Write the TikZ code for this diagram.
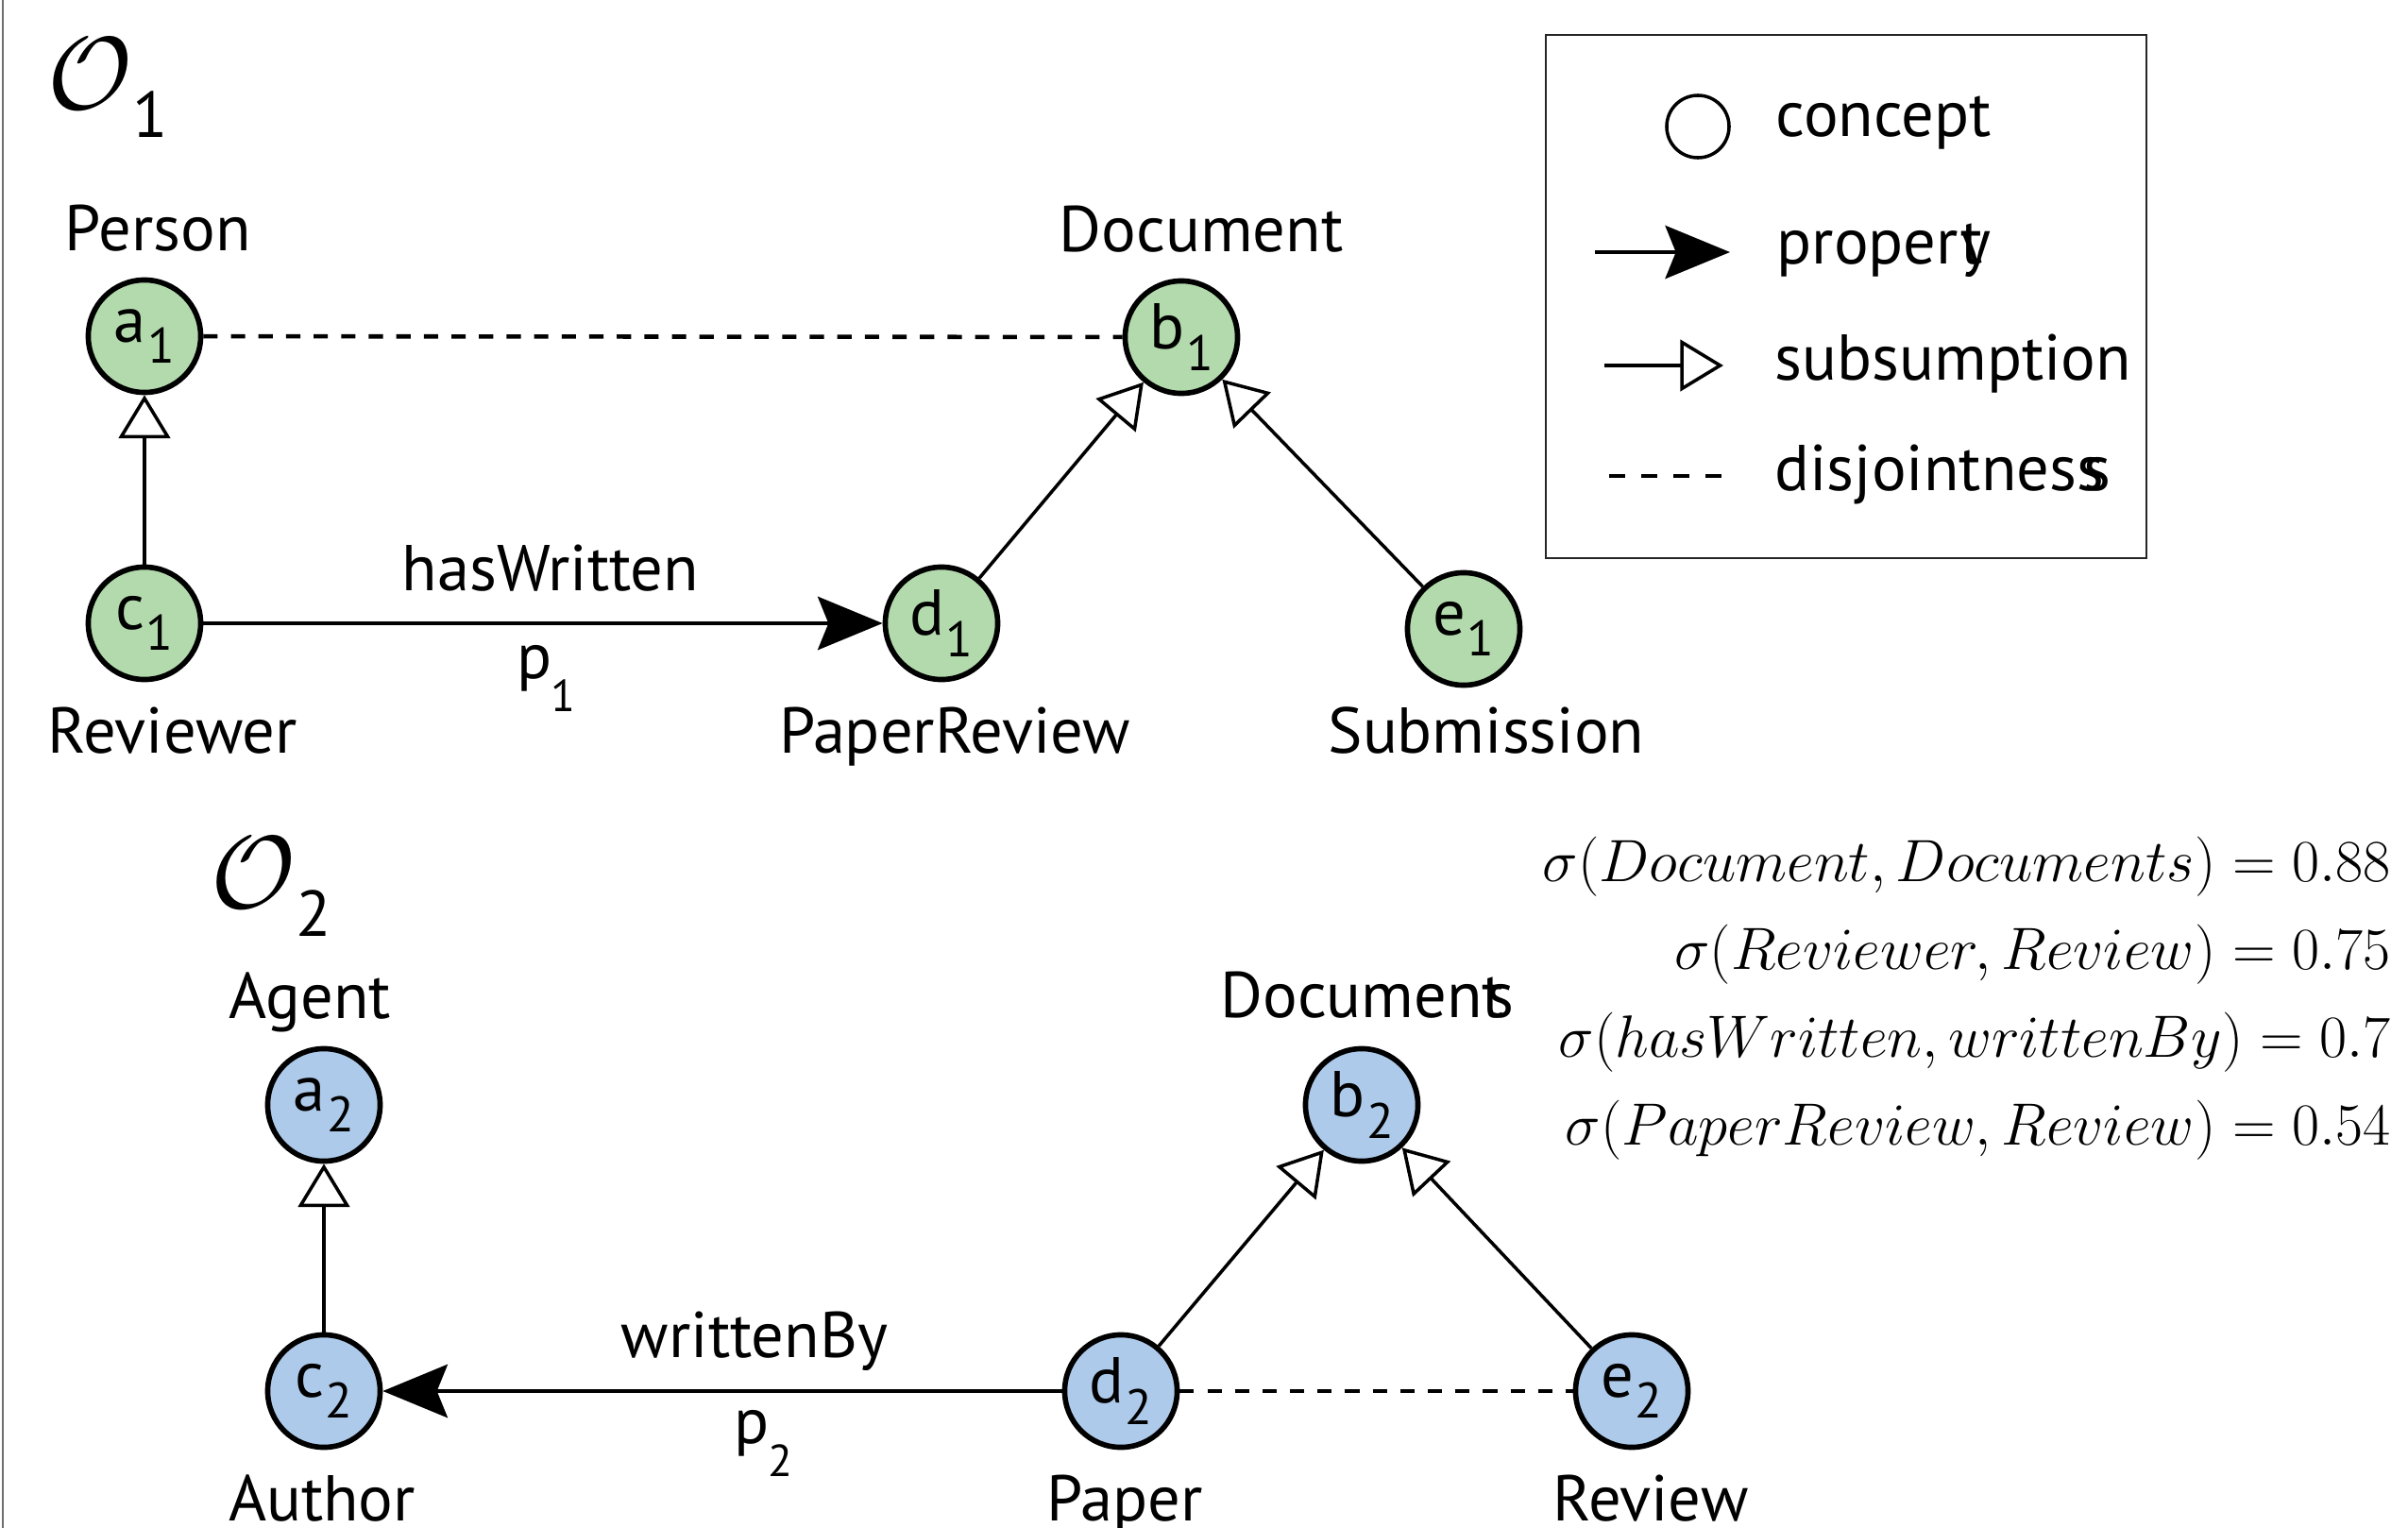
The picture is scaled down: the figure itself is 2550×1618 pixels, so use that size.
\documentclass[tikz,border=0pt]{standalone}
\usepackage{graphicx}
\usepackage[no-math]{fontspec}
\setmainfont{PT Sans}
\usetikzlibrary{arrows.meta}

\definecolor{greenfill}{RGB}{179,218,173}
\definecolor{bluefill}{RGB}{174,202,234}
\definecolor{framegray}{RGB}{110,110,110}

% concept name with a lowered index
\newcommand{\cname}[2]{#1\kern0.5pt\raisebox{-6.3pt}{\fontsize{15}{15}\selectfont #2}}
% property name with a lowered index
\newcommand{\pname}[2]{#1\kern-0.5pt\raisebox{-10pt}{\fontsize{13.5}{13.5}\selectfont #2}}
% ontology symbol with its number
\newcommand{\onto}[1]{\scalebox{1.25}{\fontsize{24.88}{26}\selectfont$\mathcal{O}$}\raisebox{-8.7pt}{#1}}
% similarity value set in math
\newcommand{\simval}[1]{\scalebox{1.04}{$#1$}}

\begin{document}
\begin{tikzpicture}[x=0.01cm, y=-0.01cm,
  txt/.style={font=\fontsize{19.5}{23}\selectfont, inner sep=0pt},
  concept/.style={circle, draw, line width=1.6pt, minimum size=1.19cm,
    inner sep=0pt, font=\fontsize{19.5}{23}\selectfont},
  cgreen/.style={concept, fill=greenfill},
  cblue/.style={concept, fill=bluefill},
  prop/.style={line width=1.3pt, -{Stealth[length=19.5pt,width=16pt,inset=3.2pt]}},
  subs/.style={line width=1pt, -{Triangle[open,length=13pt,width=15.5pt,fill=white,line width=1pt]}},
  disj/.style={line width=1.3pt, dash pattern=on 4.3pt off 4pt},
  formula/.style={anchor=base east, inner sep=0pt, font=\fontsize{17.28}{20}\selectfont},
]
\useasboundingbox (0,0) rectangle (2550,1618);
\fill[white] (0,0) rectangle (2550,1618);
\draw[framegray, line width=0.6pt] (3,0) -- (3,1618);

% ---------- first ontology ----------
\node[txt, anchor=base west] (o1) at (50,115) {\onto{1}};

\node[cgreen] (a1) at (153,356) {\cname{a}{1}};
\node[cgreen] (b1) at (1251,357) {\cname{b}{1}};
\node[cgreen] (c1) at (153,660) {\cname{c}{1}};
\node[cgreen] (d1) at (997,660) {\cname{d}{1}};
\node[cgreen] (e1) at (1550,666) {\cname{e}{1}};

\node[txt, anchor=base] (lperson) at (167,265) {Person};
\node[txt, anchor=base] (ldocument) at (1272,266) {Document};
\node[txt, anchor=base] (lreviewer) at (183,797) {Reviewer};
\node[txt, anchor=base] (lpaperreview) at (1011,797) {PaperReview};
\node[txt, anchor=base] (lsubmission) at (1574,797) {Submission};
\node[txt, anchor=base] (lhaswritten) at (583,625) {hasWritten};
\node[txt, anchor=base west] (lp1) at (547,718) {\pname{p}{1}};

\draw[disj] (a1) -- (b1);
\draw[subs] (c1) -- (a1);
\draw[prop] (c1) -- (d1);
\draw[subs] (d1) -- (b1);
\draw[subs] (e1) -- (b1);

% ---------- second ontology ----------
\node[txt, anchor=base west] (o2) at (223,961) {\onto{2}};

\node[cblue] (a2) at (343,1170) {\cname{a}{2}};
\node[cblue] (b2) at (1442,1170) {\cname{b}{2}};
\node[cblue] (c2) at (343,1473) {\cname{c}{2}};
\node[cblue] (d2) at (1187,1473) {\cname{d}{2}};
\node[cblue] (e2) at (1728,1473) {\cname{e}{2}};

\node[txt, anchor=base] (lagent) at (328,1078) {Agent};
\node[txt, anchor=base] (ldocuments) at (1448,1077) {Documen{t}\kern-0.27em s};
\node[txt, anchor=base] (lauthor) at (341,1610) {Author};
\node[txt, anchor=base] (lwrittenby) at (799,1437) {writtenBy};
\node[txt, anchor=base west] (lp2) at (777,1528) {\pname{p}{2}};
\node[txt, anchor=base] (lpaper) at (1191,1610) {Paper};
\node[txt, anchor=base] (lreview) at (1748,1610) {Review};

\draw[subs] (c2) -- (a2);
\draw[prop] (d2) -- (c2);
\draw[subs] (d2) -- (b2);
\draw[subs] (e2) -- (b2);
\draw[disj] (d2) -- (e2);

% ---------- legend ----------
\node[draw=black!85, line width=0.6pt, minimum width=6.36cm, minimum height=5.54cm,
  anchor=north west, inner sep=0pt] (legend) at (1636,36) {};
\node[circle, draw, line width=1pt, minimum size=0.66cm, inner sep=0pt] (lgconcept) at (1798,134) {};
\node[txt, anchor=base west] (lgconcepttxt) at (1880,144) {concept};

\coordinate (lgpa) at (1689,267);
\coordinate (lgpb) at (1832,267);
\draw[prop, line width=1pt] (lgpa) -- (lgpb);
\node[txt, anchor=base west] (lgproptxt) at (1881,279) {proper{t}\kern-0.34em y};

\coordinate (lgsa) at (1699,387);
\coordinate (lgsb) at (1825,387);
\draw[subs] (lgsa) -- (lgsb);
\node[txt, anchor=base west] (lgsubstxt) at (1879,402) {subsumption};

\coordinate (lgda) at (1704,504);
\coordinate (lgdb) at (1823,504);
\draw[line width=1pt, dash pattern=on 4.84pt off 4.84pt] (lgda) -- (lgdb);
\node[txt, anchor=base west] (lgdisjtxt) at (1879,519) {disjointnes{s}\kern-0.32em s};

% ---------- similarity values ----------
\node[formula] (f1) at (2532,933) {\simval{\sigma(Document, Documents) = 0.88}};
\node[formula] (f2) at (2532,1026) {\simval{\sigma(Reviewer, Review) = 0.75}};
\node[formula] (f3) at (2532,1119) {\simval{\sigma(hasWritten, writtenBy) = 0.7}};
\node[formula] (f4) at (2532,1212) {\simval{\sigma(PaperReview, Review) = 0.54}};
\end{tikzpicture}
\end{document}
